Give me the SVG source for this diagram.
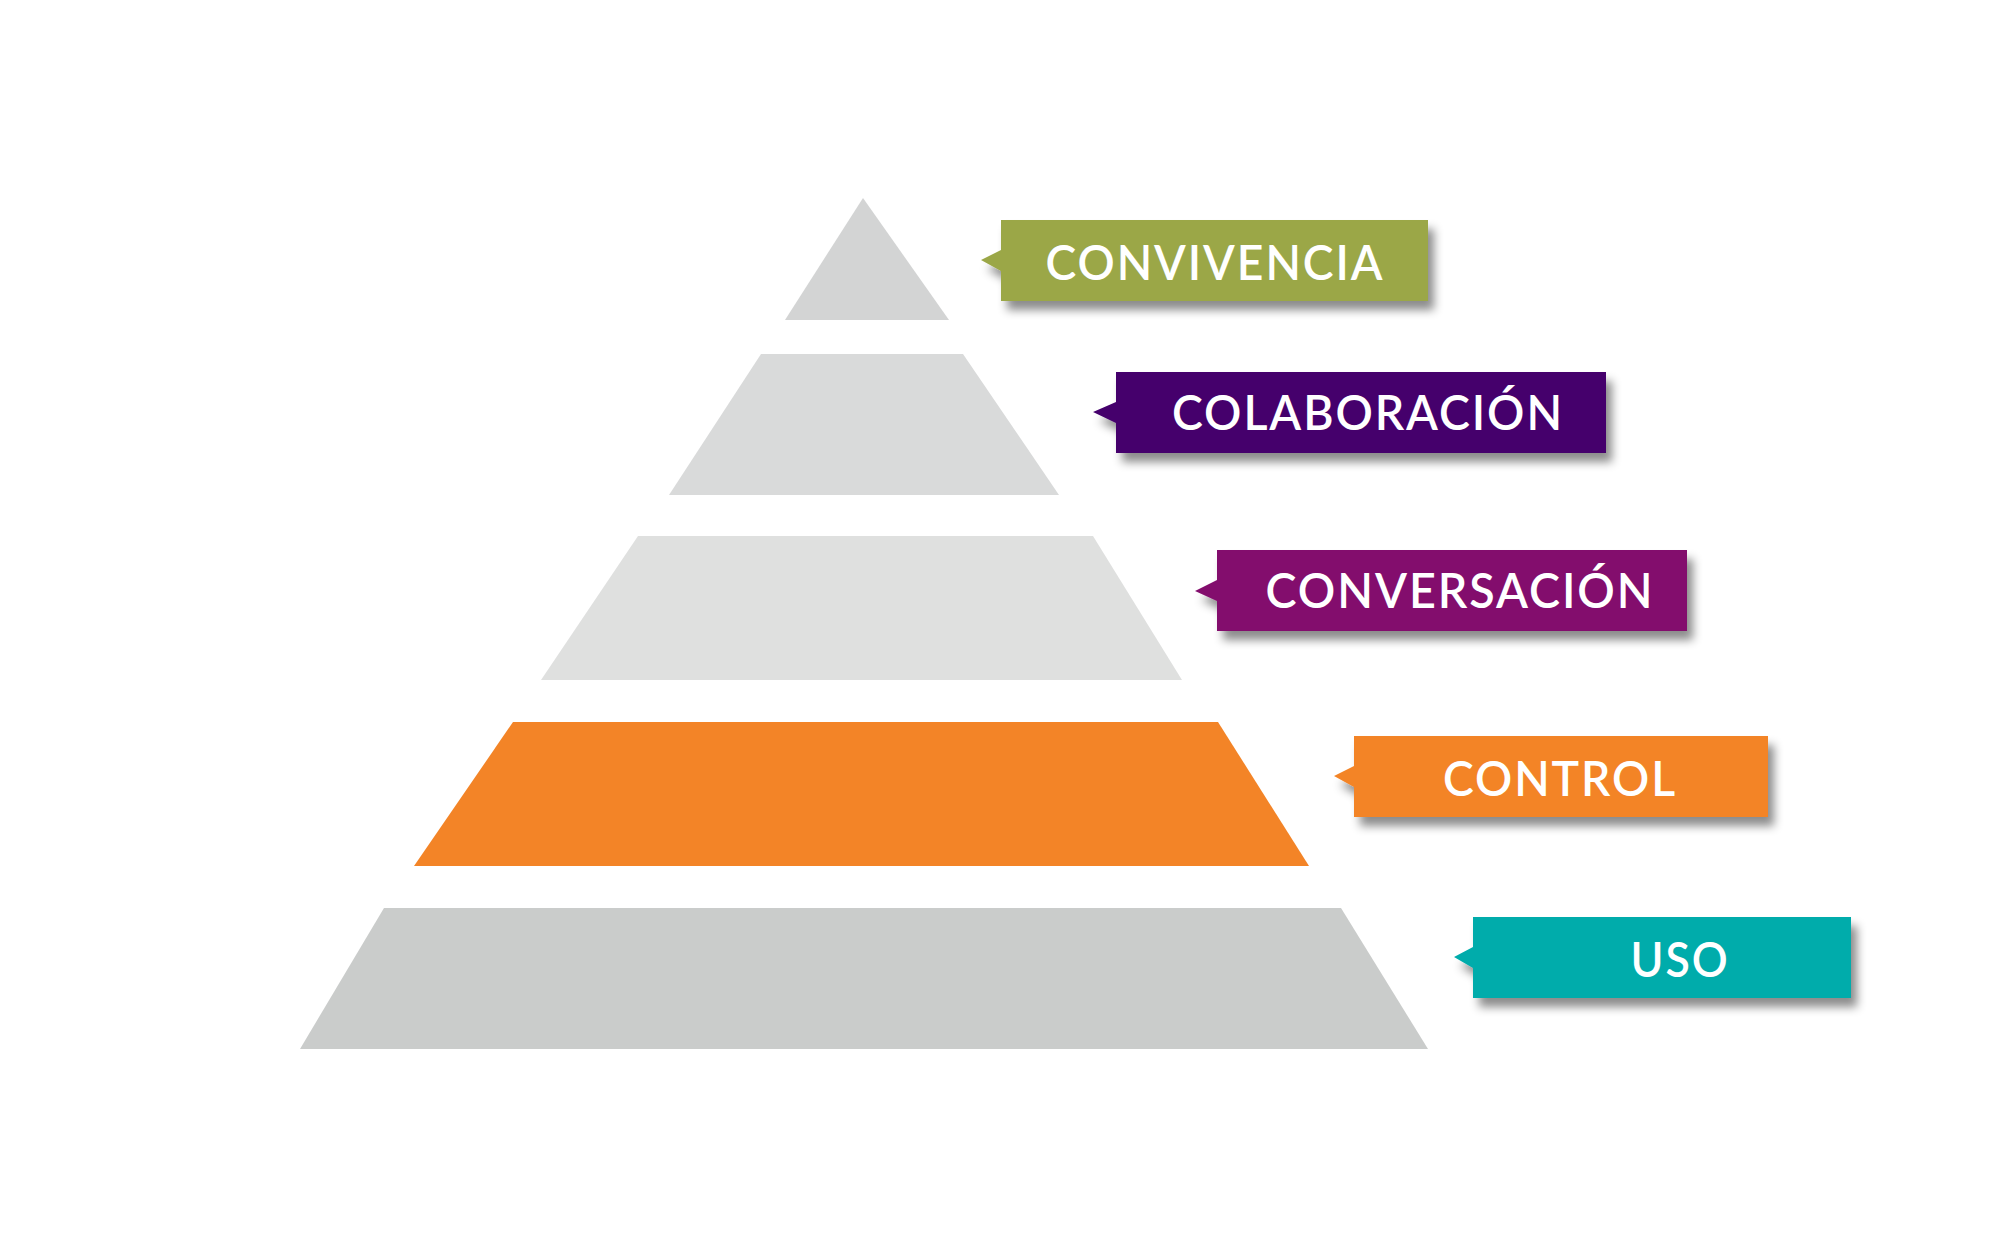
<svg xmlns="http://www.w3.org/2000/svg" width="1990" height="1248" viewBox="0 0 1990 1248">
<defs>
<filter id="sh" x="-10%" y="-20%" width="130%" height="160%">
<feDropShadow dx="6" dy="9" stdDeviation="5" flood-color="#000" flood-opacity="0.45"/>
</filter>
<style>
.lbl{font-family:Lato,"Liberation Sans",sans-serif;font-size:48px;font-weight:600;fill:#fff;text-anchor:middle;letter-spacing:2px}
</style>
</defs>
<rect width="1990" height="1248" fill="#fff"/>
<g id="tier1"><polygon points="863,198 949,320 785,320" fill="#d3d4d4"/></g>
<g id="tier2"><polygon points="761,354 963,354 1059,495 669,495" fill="#d9dada"/></g>
<g id="tier3"><polygon points="638,536 1093,536 1182,680 541,680" fill="#dfe0df"/></g>
<g id="tier4"><polygon points="513,722 1218,722 1309,866 414,866" fill="#f38427"/></g>
<g id="tier5"><polygon points="384,908 1341,908 1428,1049 300,1049" fill="#cacccb"/></g>
<g id="callouts"></g>
<g id="label-convivencia">
<path d="M1001,220 H1428 V301 H1001 V271 L981,260 L1001,250 Z" fill="#9ba746" filter="url(#sh)"/>
<text class="lbl" x="1215" y="280" textLength="339" lengthAdjust="spacingAndGlyphs">CONVIVENCIA</text>
</g>
<g id="label-colaboracion">
<path d="M1116,372 H1606 V453 H1116 V423 L1093,412 L1116,402 Z" fill="#45066c" filter="url(#sh)"/>
<text class="lbl" x="1368" y="430" textLength="392" lengthAdjust="spacingAndGlyphs">COLABORACIÓN</text>
</g>
<g id="label-conversacion">
<path d="M1217,550 H1687 V631 H1217 V601 L1195,591 L1217,580 Z" fill="#830d6d" filter="url(#sh)"/>
<text class="lbl" x="1460" y="608" textLength="389" lengthAdjust="spacingAndGlyphs">CONVERSACIÓN</text>
</g>
<g id="label-control">
<path d="M1354,736 H1768 V817 H1354 V787 L1334,776 L1354,766 Z" fill="#f38427" filter="url(#sh)"/>
<text class="lbl" x="1560" y="796" textLength="234" lengthAdjust="spacingAndGlyphs">CONTROL</text>
</g>
<g id="label-uso">
<path d="M1473,917 H1851 V998 H1473 V968 L1454,957 L1473,947 Z" fill="#03acab" filter="url(#sh)"/>
<text class="lbl" x="1680" y="977" textLength="99" lengthAdjust="spacingAndGlyphs">USO</text>
</g>
</svg>
